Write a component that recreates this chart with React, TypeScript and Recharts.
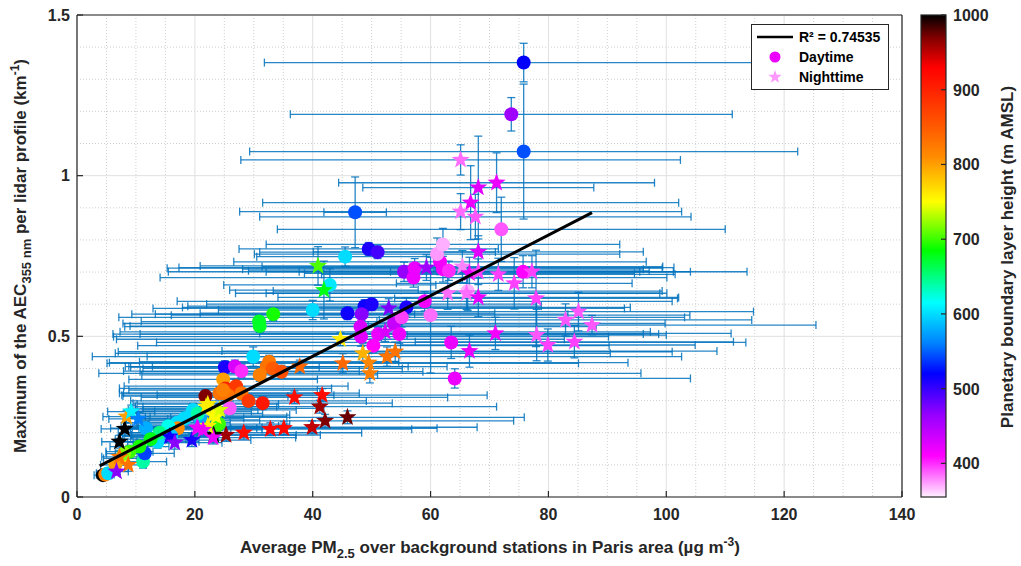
import React from 'react';
import { ScatterChart, Scatter, XAxis, YAxis, CartesianGrid, ErrorBar, Legend } from 'recharts';

const W = 1021;
const H = 566;
const FONT = '"Liberation Sans", Arial, Helvetica, sans-serif';
const INK = '#262626';
const BAR_BLUE = '#0072BD';

// Daytime lidar profiles (circles)
const dayPM = [
  75.8, 73.7, 75.8, 47.2, 72.0, 49.5, 51.0, 45.5, 42.9, 40.0,
  45.9, 48.8, 50.0, 48.3, 55.9, 48.1, 48.2, 51.1, 53.8, 54.7,
  50.3, 55.1, 60.0, 59.0, 55.5, 57.3, 57.1, 61.6, 62.1, 63.1,
  61.1, 62.1, 66.3, 75.7, 63.5, 64.1, 30.9, 31.0, 33.3, 29.9,
  25.1, 26.8, 27.9, 32.6, 32.2, 31.0, 33.2, 34.7, 24.8, 25.2,
  27.0, 24.2, 25.6, 27.9, 21.8, 25.9, 29.1, 31.5, 19.6, 24.1,
  19.7, 17.0, 11.7, 13.7, 11.2, 11.5, 10.6, 8.9, 4.4, 4.8,
  5.3, 23.6, 18.3, 17.1, 24.8, 15.5, 21.0, 14.0, 7.5, 8.0,
  6.5, 12.5, 16.0, 20.5,
];
const dayPMErr = [
  44, 37.5, 46.5, 5.3, 38, 22, 20, 15, 18, 16,
  25, 30, 28, 35, 38, 40, 42, 45, 46, 44,
  40, 48, 44, 42, 40, 42, 43, 35, 34, 34,
  31, 30, 33, 38, 50, 40, 20, 22, 24, 18,
  16, 18, 20, 22, 24, 20, 22, 24, 16, 18,
  19, 17, 18, 20, 14, 16, 20, 22, 10, 12,
  11, 9, 6, 7, 4, 5, 5, 4, 1.5, 1.5,
  2, 12, 10, 9, 16, 8, 10, 7, 3, 3,
  2.5, 6, 8, 11,
];
const dayAEC = [
  1.352, 1.191, 1.075, 0.886, 0.833, 0.772, 0.762, 0.748, 0.660, 0.582,
  0.572, 0.594, 0.600, 0.569, 0.590, 0.530, 0.499, 0.507, 0.540, 0.507,
  0.471, 0.559, 0.566, 0.609, 0.701, 0.712, 0.683, 0.732, 0.709, 0.704,
  0.756, 0.786, 0.641, 0.701, 0.481, 0.369, 0.546, 0.532, 0.569, 0.437,
  0.404, 0.406, 0.392, 0.421, 0.406, 0.380, 0.400, 0.390, 0.366, 0.338,
  0.345, 0.323, 0.317, 0.323, 0.314, 0.276, 0.299, 0.292, 0.266, 0.227,
  0.271, 0.231, 0.214, 0.172, 0.110, 0.136, 0.157, 0.141, 0.068, 0.070,
  0.074, 0.219, 0.245, 0.214, 0.333, 0.220, 0.240, 0.200, 0.120, 0.135,
  0.100, 0.180, 0.190, 0.260,
];
const dayAECErr = [
  0.06, 0.052, 0.21, 0.11, 0.10, 0.02, 0.02, 0.03, 0.05, 0.03,
  0.02, 0.02, 0.02, 0.02, 0.03, 0.03, 0.03, 0.02, 0.02, 0.03,
  0.02, 0.03, 0.18, 0.03, 0.03, 0.03, 0.03, 0.04, 0.04, 0.03,
  0.05, 0.05, 0.06, 0.05, 0.05, 0.03, 0.02, 0.02, 0.02, 0.03,
  0.02, 0.02, 0.02, 0.02, 0.02, 0.02, 0.02, 0.02, 0.02, 0.02,
  0.02, 0.02, 0.02, 0.02, 0.02, 0.02, 0.02, 0.02, 0.02, 0.02,
  0.02, 0.02, 0.02, 0.02, 0.02, 0.02, 0.02, 0.02, 0.01, 0.01,
  0.01, 0.02, 0.02, 0.02, 0.02, 0.02, 0.02, 0.02, 0.02, 0.02,
  0.01, 0.02, 0.02, 0.02,
];
const dayPBL = [
  520, 460, 545, 545, 390, 510, 495, 600, 605, 600,
  515, 515, 510, 470, 510, 430, 425, 420, 440, 420,
  410, 395, 385, 415, 465, 420, 420, 415, 415, 400,
  375, 370, 370, 410, 420, 420, 675, 675, 690, 600,
  510, 430, 400, 825, 830, 820, 850, 860, 800, 900,
  880, 830, 830, 830, 970, 390, 880, 910, 600, 700,
  600, 600, 580, 600, 640, 540, 690, 700, 1000, 820,
  600, 700, 600, 810, 820, 620, 580, 650, 760, 720,
  800, 680, 590, 640,
];

// Nighttime lidar profiles (stars)
const nightPM = [
  65.1, 71.2, 68.1, 66.8, 65.1, 67.6, 40.9, 41.9, 52.9, 52.3,
  44.7, 48.5, 49.5, 45.1, 52.6, 54.0, 49.7, 59.3, 68.1, 65.4,
  66.6, 68.1, 62.9, 66.1, 68.1, 71.5, 77.2, 74.2, 77.9, 78.0,
  79.9, 82.9, 85.1, 87.4, 84.4, 66.6, 71.0, 37.8, 36.9, 41.6,
  41.2, 42.1, 45.9, 39.9, 32.8, 35.1, 28.3, 25.3, 23.2, 23.1,
  19.5, 20.4, 23.1, 22.2, 15.7, 16.6, 8.1, 7.2, 8.4, 9.2,
  10.4, 7.2, 8.7, 21.9, 23.6, 24.2, 22.2, 20.5, 21.4, 6.7,
];
const nightPMErr = [
  37.3, 26.8, 19.6, 35.3, 37.5, 36.6, 20, 16, 40, 45,
  38, 42, 44, 40, 50, 47, 46, 42, 28, 34,
  28, 36, 36, 34, 34, 30, 24, 20, 24, 22,
  25, 31.6, 29.7, 38, 27, 42, 40, 25, 26, 28,
  30, 32, 30, 28, 24, 26, 20, 16, 14, 14,
  10, 11, 13, 12, 8, 8, 4, 3, 4, 4,
  5, 3, 3, 12, 12, 13, 12, 10, 10, 2,
];
const nightAEC = [
  1.049, 0.978, 0.963, 0.916, 0.888, 0.872, 0.719, 0.644, 0.587, 0.514,
  0.491, 0.447, 0.418, 0.416, 0.437, 0.452, 0.385, 0.714, 0.763, 0.717,
  0.696, 0.701, 0.634, 0.634, 0.621, 0.693, 0.701, 0.665, 0.618, 0.504,
  0.473, 0.551, 0.577, 0.535, 0.483, 0.454, 0.509, 0.406, 0.310, 0.317,
  0.281, 0.237, 0.248, 0.217, 0.211, 0.214, 0.200, 0.193, 0.193, 0.185,
  0.177, 0.216, 0.255, 0.289, 0.188, 0.169, 0.212, 0.172, 0.250, 0.266,
  0.243, 0.125, 0.100, 0.281, 0.250, 0.271, 0.221, 0.214, 0.209, 0.079,
];
const nightAECErr = [
  0.047, 0.093, 0.16, 0.115, 0.056, 0.07, 0.06, 0.09, 0.03, 0.03,
  0.02, 0.03, 0.03, 0.03, 0.03, 0.03, 0.03, 0.04, 0.05, 0.05,
  0.05, 0.04, 0.05, 0.05, 0.06, 0.05, 0.05, 0.08, 0.15, 0.08,
  0.05, 0.05, 0.06, 0.03, 0.05, 0.05, 0.05, 0.02, 0.02, 0.02,
  0.02, 0.02, 0.02, 0.02, 0.02, 0.02, 0.02, 0.02, 0.02, 0.02,
  0.02, 0.02, 0.02, 0.02, 0.02, 0.02, 0.02, 0.02, 0.02, 0.02,
  0.02, 0.02, 0.02, 0.02, 0.02, 0.02, 0.02, 0.02, 0.02, 0.01,
];
const nightPBL = [
  385, 420, 425, 420, 385, 390, 705, 680, 475, 430,
  760, 790, 815, 840, 830, 830, 820, 460, 425, 380,
  420, 395, 385, 385, 420, 395, 395, 395, 395, 390,
  395, 390, 390, 390, 395, 420, 415, 840, 920, 920,
  960, 970, 975, 950, 925, 925, 920, 960, 1000, 420,
  510, 430, 750, 760, 515, 470, 1000, 1000, 800, 610,
  560, 830, 830, 760, 750, 740, 760, 420, 420, 470,
];

// Linear fit of AEC max against PM2.5
const fitSlope = 0.00943;
const fitIntercept = 0.0607;
const fitFrom = 3.85;
const fitTo = 87.4;
const fitR2 = '0.74535';

const xTicks = [0, 20, 40, 60, 80, 100, 120, 140];
const yTicks = [0, 0.5, 1, 1.5];
const xMinor = [5, 10, 15, 25, 30, 35, 45, 50, 55, 65, 70, 75, 85, 90, 95, 105, 110, 115, 125, 130, 135];
const yMinor = [0.1, 0.2, 0.3, 0.4, 0.6, 0.7, 0.8, 0.9, 1.1, 1.2, 1.3, 1.4];
const pblTicks = [400, 500, 600, 700, 800, 900, 1000];
const pblMin = 355;
const pblMax = 1000;

// colour map, from top of the colour bar down
const cmap: [number, number[]][] = [
  [1000, [0, 0, 0]],
  [970, [128, 0, 0]],
  [930, [255, 0, 0]],
  [850, [255, 90, 0]],
  [810, [255, 140, 0]],
  [750, [255, 255, 0]],
  [685, [0, 255, 0]],
  [615, [0, 255, 255]],
  [560, [0, 128, 255]],
  [520, [0, 0, 255]],
  [465, [150, 0, 255]],
  [410, [255, 0, 255]],
  [355, [255, 240, 255]],
];

const rgb = (c: number[]) => `rgb(${c.map(Math.round).join(',')})`;

function pblColor(v: number) {
  if (v >= cmap[0][0]) return rgb(cmap[0][1]);
  for (let i = 0; i < cmap.length - 1; i++) {
    const [v0, c0] = cmap[i];
    const [v1, c1] = cmap[i + 1];
    if (v <= v0 && v >= v1) {
      const t = (v0 - v) / (v0 - v1);
      return rgb(c0.map((c, k) => c + (c1[k] - c) * t));
    }
  }
  return rgb(cmap[cmap.length - 1][1]);
}

const toPoints = (pm: number[], pmErr: number[], aec: number[], aecErr: number[], pbl: number[], night: boolean) =>
  pm.map((x, i) => ({ x, y: aec[i], xErr: pmErr[i], yErr: aecErr[i], color: pblColor(pbl[i]), night }));

const dayData = toPoints(dayPM, dayPMErr, dayAEC, dayAECErr, dayPBL, false);
const nightData = toPoints(nightPM, nightPMErr, nightAEC, nightAECErr, nightPBL, true);
const fitData = [fitFrom, fitTo].map((x) => ({ x, y: fitIntercept + fitSlope * x }));

const starPoints = (cx: number, cy: number, R: number, r: number) => {
  const pts: string[] = [];
  for (let i = 0; i < 10; i++) {
    const a = -Math.PI / 2 + (i * Math.PI) / 5;
    const rad = i % 2 === 0 ? R : r;
    pts.push(`${cx + rad * Math.cos(a)},${cy + rad * Math.sin(a)}`);
  }
  return pts.join(' ');
};

const Marker = (props: any) => {
  const { cx, cy, payload } = props;
  if (cx == null || cy == null) return <g />;
  if (payload.night) return <polygon points={starPoints(cx, cy, 9.5, 3.9)} fill={payload.color} />;
  return <circle cx={cx} cy={cy} r={7} fill={payload.color} />;
};

const Nothing = () => <g />;

const tickStyle = { fill: INK, fontSize: 16, fontWeight: 'bold', fontFamily: FONT };

const LegendBox = () => (
  <div
    style={{
      border: `1px solid ${INK}`,
      background: '#fff',
      padding: '2px 8px 2px 3px',
      fontFamily: FONT,
      fontWeight: 'bold',
      fontSize: 14,
      color: '#000',
      lineHeight: '20px',
      textAlign: 'left',
      whiteSpace: 'nowrap',
    }}
  >
    <div style={{ display: 'flex', alignItems: 'center' }}>
      <svg width={40} height={20}>
        <line x1={2} y1={10} x2={38} y2={10} stroke="#000" strokeWidth={2.5} />
      </svg>
      <span style={{ marginLeft: 4 }}>R² = {fitR2}</span>
    </div>
    <div style={{ display: 'flex', alignItems: 'center' }}>
      <svg width={40} height={20}>
        <circle cx={20} cy={10} r={5.5} fill={pblColor(420)} />
      </svg>
      <span style={{ marginLeft: 4 }}>Daytime</span>
    </div>
    <div style={{ display: 'flex', alignItems: 'center' }}>
      <svg width={40} height={20}>
        <polygon points={starPoints(20, 10, 7, 2.9)} fill="#ff99ff" />
      </svg>
      <span style={{ marginLeft: 4 }}>Nighttime</span>
    </div>
  </div>
);

const CB_X = 921;
const CB_Y = 15;
const CB_W = 25;
const CB_H = 482;
const pblY = (v: number) => CB_Y + ((pblMax - v) / (pblMax - pblMin)) * CB_H;

const Overlay = () => (
  <svg width={W} height={H} style={{ position: 'absolute', left: 0, top: 0, pointerEvents: 'none' }}>
    <defs>
      <linearGradient id="pblGrad" x1="0" y1="0" x2="0" y2="1">
        {cmap.map(([v, c]) => (
          <stop key={v} offset={(pblMax - v) / (pblMax - pblMin)} stopColor={rgb(c)} />
        ))}
      </linearGradient>
    </defs>
    <rect x={CB_X} y={CB_Y} width={CB_W} height={CB_H} fill="url(#pblGrad)" stroke={INK} strokeWidth={1.2} />
    {pblTicks.map((v) => (
      <g key={v}>
        <line x1={CB_X + CB_W - 5} x2={CB_X + CB_W} y1={pblY(v)} y2={pblY(v)} stroke={INK} strokeWidth={1.2} />
        <text x={953} y={pblY(v) + 6} fontSize={16} fontWeight="bold" fontFamily={FONT} fill={INK}>
          {v}
        </text>
      </g>
    ))}
    <text
      transform="translate(1013,257) rotate(-90)"
      textAnchor="middle"
      fontSize={17}
      fontWeight="bold"
      fontFamily={FONT}
      fill={INK}
    >
      Planetary boundary layer height (m AMSL)
    </text>
    <text
      transform="translate(26,256) rotate(-90)"
      textAnchor="middle"
      fontSize={17}
      fontWeight="bold"
      fontFamily={FONT}
      fill={INK}
    >
      Maximum of the AEC
      <tspan fontSize={13} dy={5}>355 nm</tspan>
      <tspan dy={-5}> per lidar profile (km</tspan>
      <tspan fontSize={12} dy={-7}>-1</tspan>
      <tspan dy={7}>)</tspan>
    </text>
    <text x={490} y={553} textAnchor="middle" fontSize={17} fontWeight="bold" fontFamily={FONT} fill={INK}>
      Average PM
      <tspan fontSize={13} dy={5}>2.5</tspan>
      <tspan dy={-5}> over background stations in Paris area (µg m</tspan>
      <tspan fontSize={12} dy={-7}>-3</tspan>
      <tspan dy={7}>)</tspan>
    </text>
  </svg>
);

export default function App() {
  return (
    <div style={{ position: 'fixed', left: 0, top: 0, width: W, height: H, background: '#fff' }}>
      <ScatterChart width={W} height={H} margin={{ top: 14, right: 118, bottom: 39, left: 37 }}>
        <CartesianGrid verticalValues={xMinor} horizontalValues={yMinor} stroke="#cfcfcf" strokeDasharray="1 2" />
        <CartesianGrid verticalValues={xTicks} horizontalValues={yTicks} stroke="#e0e0e0" />
        <XAxis
          type="number"
          dataKey="x"
          domain={[0, 140]}
          ticks={xTicks}
          interval={0}
          allowDataOverflow
          height={30}
          tickSize={-6}
          tickMargin={18}
          stroke={INK}
          strokeWidth={1.2}
          tick={tickStyle}
        />
        <YAxis
          type="number"
          dataKey="y"
          domain={[0, 1.5]}
          ticks={yTicks}
          interval={0}
          allowDataOverflow
          width={40}
          tickSize={-6}
          tickMargin={13}
          stroke={INK}
          strokeWidth={1.2}
          tick={tickStyle}
        />
        <XAxis
          xAxisId="top"
          orientation="top"
          type="number"
          domain={[0, 140]}
          ticks={xTicks}
          interval={0}
          height={1}
          tick={false}
          tickSize={-6}
          stroke={INK}
          strokeWidth={1.2}
        />
        <YAxis
          yAxisId="right"
          orientation="right"
          type="number"
          domain={[0, 1.5]}
          ticks={yTicks}
          interval={0}
          width={1}
          tick={false}
          tickSize={-6}
          stroke={INK}
          strokeWidth={1.2}
        />
        <Legend
          layout="vertical"
          align="center"
          verticalAlign="middle"
          content={<LegendBox />}
          wrapperStyle={{ left: 751, top: 24, width: 'auto' }}
        />
        <Scatter data={dayData} shape={<Nothing />} isAnimationActive={false}>
          <ErrorBar dataKey="xErr" direction="x" width={4} stroke={BAR_BLUE} strokeOpacity={0.85} strokeWidth={1.3} isAnimationActive={false} />
          <ErrorBar dataKey="yErr" direction="y" width={4} stroke={BAR_BLUE} strokeOpacity={0.85} strokeWidth={1.3} isAnimationActive={false} />
        </Scatter>
        <Scatter data={nightData} shape={<Nothing />} isAnimationActive={false}>
          <ErrorBar dataKey="xErr" direction="x" width={4} stroke={BAR_BLUE} strokeOpacity={0.85} strokeWidth={1.3} isAnimationActive={false} />
          <ErrorBar dataKey="yErr" direction="y" width={4} stroke={BAR_BLUE} strokeOpacity={0.85} strokeWidth={1.3} isAnimationActive={false} />
        </Scatter>
        <Scatter data={dayData} shape={Marker} isAnimationActive={false} />
        <Scatter data={nightData} shape={Marker} isAnimationActive={false} />
        <Scatter data={fitData} shape={<Nothing />} line={{ stroke: '#000', strokeWidth: 3 }} isAnimationActive={false} />
      </ScatterChart>
      <Overlay />
    </div>
  );
}
